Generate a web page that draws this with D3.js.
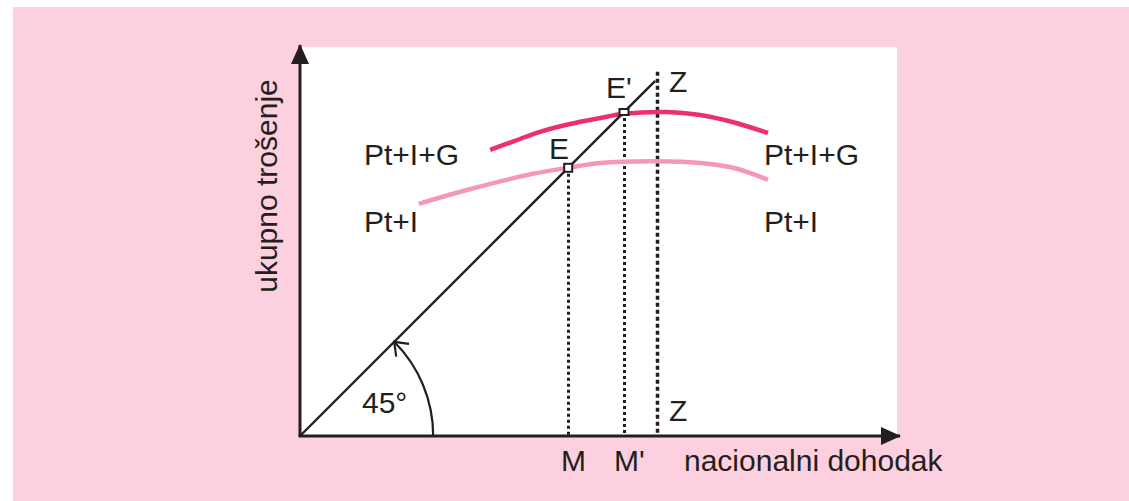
<!DOCTYPE html>
<html>
<head>
<meta charset="utf-8">
<script src="https://cdn.jsdelivr.net/npm/d3@7"></script>
<style>
  body { margin: 0; background: #fff; }
  text { font-family: "Liberation Sans", Arial, sans-serif; fill: #231f20; }
</style>
</head>
<body>
<svg id="chart" width="1129" height="501"></svg>
<script>
// curves, in income units (x) / spending units (y)
const curvePtIG = [[3.17,4.77],[3.58,4.92],[4.0,5.07],[4.5,5.2],[5.0,5.3],[5.4,5.37],[6.12,5.4],[6.67,5.35],[7.22,5.23],[7.8,5.05]];
const curvePtI  = [[1.98,3.87],[2.78,4.1],[3.88,4.37],[4.47,4.47],[5.0,4.55],[5.95,4.58],[6.67,4.55],[7.22,4.47],[7.8,4.27]];
const line45 = [[0,0],[5.92,5.92]];
const equilibria = [{name:"E", x:4.47, w:8, h:8}, {name:"E'", x:5.4, w:9, h:6}];
const dropLines = [{name:"M", x:4.47, top:4.47, w:3, dash:"3,3"}, {name:"M'", x:5.4, top:5.4, w:3, dash:"3,3"}, {name:"Z", x:5.95, top:6.07, w:3.5, dash:"4,3"}];
const axisMax = {x:10, y:6.5};
const plotBox = {x:9.95, y:6.48};

const textColor = "#231f20";
const darkPink = "#ec306f";
const lightPink = "#f598b8";
const fs = 30;

const svg = d3.select('#chart');
const x = d3.scaleLinear().domain([0, axisMax.x]).range([300, 900]);
const y = d3.scaleLinear().domain([0, axisMax.y]).range([436, 46]);

// backgrounds
svg.append('rect').attr('x', 13).attr('y', 7).attr('width', 1116).attr('height', 494).attr('fill', '#fdd0df');
svg.append('rect').attr('x', x(0)).attr('y', y(plotBox.y))
    .attr('width', x(plotBox.x) - x(0)).attr('height', y(0) - y(plotBox.y)).attr('fill', '#fff');

// arrow heads
const defs = svg.append('defs');
defs.append('marker').attr('id', 'tri')
    .attr('viewBox', '0 0 20 18').attr('refX', 19).attr('refY', 9)
    .attr('markerWidth', 20).attr('markerHeight', 18).attr('markerUnits', 'userSpaceOnUse')
    .attr('orient', 'auto')
    .append('path').attr('d', 'M0 0 L20 9 L0 18 Z').attr('fill', textColor);

// drop lines
svg.selectAll('.drop').data(dropLines)
    .join('line').attr('class', 'drop')
    .attr('x1', d => Math.round(x(d.x)) + 0.5).attr('x2', d => Math.round(x(d.x)) + 0.5)
    .attr('y1', d => y(d.top)).attr('y2', y(0))
    .attr('stroke', textColor).attr('stroke-width', d => d.w)
    .attr('stroke-dasharray', d => d.dash);

// curves
const lineGen = d3.line().x(d => x(d[0])).y(d => y(d[1])).curve(d3.curveCatmullRom);
svg.append('path').attr('d', lineGen(curvePtI)).attr('fill', 'none')
    .attr('stroke', lightPink).attr('stroke-width', 4.5);
svg.append('path').attr('d', lineGen(curvePtIG)).attr('fill', 'none')
    .attr('stroke', darkPink).attr('stroke-width', 4.5);

// 45 degree line
svg.append('path').attr('d', d3.line().x(d => x(d[0])).y(d => y(d[1]))(line45))
    .attr('stroke', textColor).attr('stroke-width', 2.4).attr('fill', 'none');

// axes
svg.append('line').attr('x1', x(0)).attr('y1', y(0)).attr('x2', x(0)).attr('y2', y(axisMax.y) - 1)
    .attr('stroke', textColor).attr('stroke-width', 3).attr('marker-end', 'url(#tri)');
svg.append('line').attr('x1', x(0) - 1.5).attr('y1', y(0)).attr('x2', x(axisMax.x)).attr('y2', y(0))
    .attr('stroke', textColor).attr('stroke-width', 3).attr('marker-end', 'url(#tri)');

// equilibrium markers
svg.selectAll('.eq').data(equilibria)
    .join('rect').attr('class', 'eq')
    .attr('x', d => x(d.x) - d.w / 2).attr('y', d => y(d.x) - d.h / 2)
    .attr('width', d => d.w).attr('height', d => d.h)
    .attr('fill', '#fff').attr('stroke', textColor).attr('stroke-width', 2);

// 45 degree arc
const r = x(2.22) - x(0);
const cx = x(0), cy = y(0);
const ex = cx + r * Math.SQRT1_2, ey = cy - r * Math.SQRT1_2;
svg.append('path').attr('d', `M${cx + r} ${cy} A${r} ${r} 0 0 0 ${ex} ${ey}`)
    .attr('fill', 'none').attr('stroke', textColor).attr('stroke-width', 2.2);
// open arrow at arc end
const a1 = Math.PI / 4 - 0.65, a2 = Math.PI / 4 + 0.65, al = 15;
svg.append('path')
    .attr('d', `M${ex + al * Math.cos(a1)} ${ey + al * Math.sin(a1)} L${ex} ${ey} L${ex + al * Math.cos(a2)} ${ey + al * Math.sin(a2)}`)
    .attr('fill', 'none').attr('stroke', textColor).attr('stroke-width', 2.2);

// labels
const labels = [
    {t: "Pt+I+G", x: 364, y: 165}, {t: "Pt+I", x: 364, y: 232},
    {t: "Pt+I+G", x: 764, y: 165}, {t: "Pt+I", x: 764, y: 232},
    {t: "E", x: 549, y: 159}, {t: "E'", x: 606, y: 98},
    {t: "Z", x: 669, y: 92}, {t: "Z", x: 669, y: 421},
    {t: "M", x: 561, y: 471}, {t: "M'", x: 614, y: 471},
    {t: "nacionalni dohodak", x: 684, y: 471},
    {t: "45°", x: 362, y: 413}
];
svg.selectAll('.lbl').data(labels)
    .join('text').attr('class', 'lbl')
    .attr('x', d => d.x).attr('y', d => d.y)
    .attr('font-size', fs).text(d => d.t);

svg.append('text')
    .attr('transform', 'translate(277,186) rotate(-90)')
    .attr('text-anchor', 'middle').attr('font-size', fs)
    .text('ukupno trošenje');
</script>
</body>
</html>
